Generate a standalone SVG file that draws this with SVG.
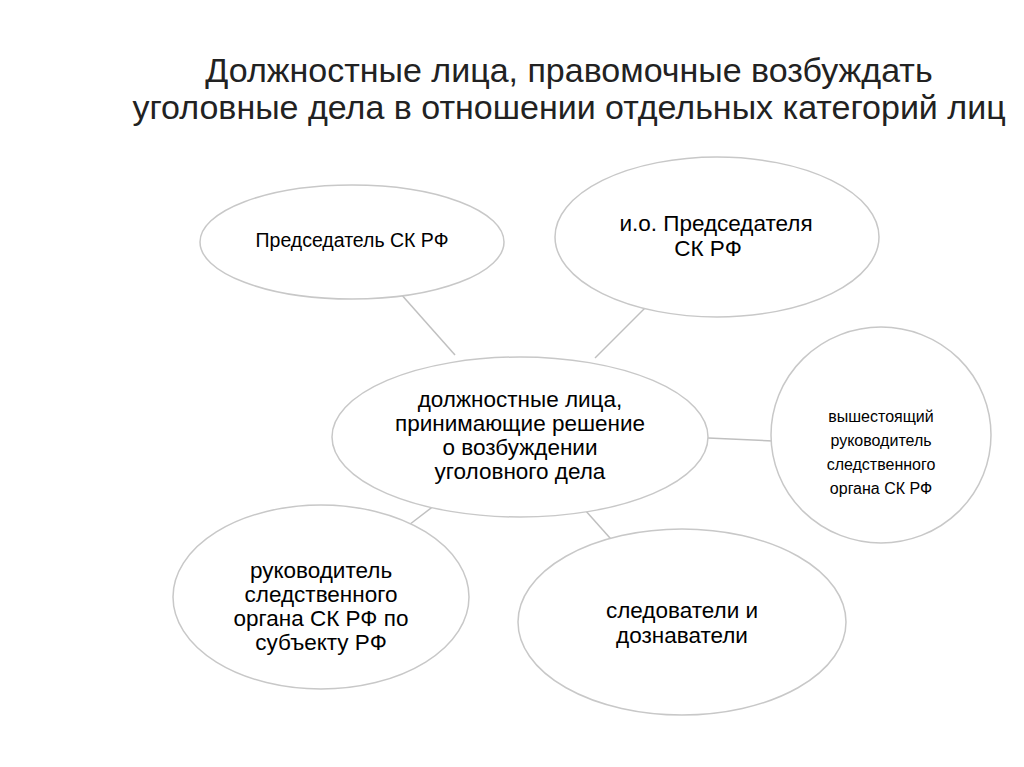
<svg xmlns="http://www.w3.org/2000/svg" width="1024" height="767" viewBox="0 0 1024 767">
<style>
.n{fill:#fff;stroke:#c8c8c8;stroke-width:1.5}
.c{stroke:#c0c0c0;stroke-width:1.5}
text{font-family:"Liberation Sans",Arial,sans-serif;fill:#000;text-anchor:middle}
.t{font-size:34px;fill:#222}
.m{font-size:22.5px}
.s{font-size:16px}
</style>
<rect width="1024" height="767" fill="#fff"/>
<text class="t" x="569" y="82">Должностные лица, правомочные возбуждать</text>
<text class="t" x="569" y="119">уголовные дела в отношении отдельных категорий лиц</text>
<g id="connectors">
<line class="c" x1="400" y1="293" x2="455" y2="355"/>
<line class="c" x1="645" y1="308" x2="595" y2="358"/>
<line class="c" x1="708" y1="438" x2="773" y2="441"/>
<line class="c" x1="435" y1="505" x2="405" y2="528"/>
<line class="c" x1="585" y1="510" x2="618" y2="547"/>
</g>
<g id="n1"><ellipse class="n" cx="352" cy="242" rx="152" ry="57"/><text x="352" y="247" style="font-size:19.5px">Председатель СК РФ</text></g>
<g id="n2"><ellipse class="n" cx="717" cy="237" rx="162" ry="80"/><text class="m" x="716" y="231">и.о. Председателя</text><text class="m" x="708" y="256">СК  РФ</text></g>
<g id="n3"><ellipse class="n" cx="520" cy="437" rx="188" ry="80"/><text class="m" x="520" y="407">должностные лица,</text><text class="m" x="520" y="431">принимающие решение</text><text class="m" x="520" y="455">о возбуждении</text><text class="m" x="520" y="479">уголовного дела</text></g>
<g id="n4"><ellipse class="n" cx="881" cy="435" rx="110" ry="108"/><text class="s" x="881" y="422">вышестоящий</text><text class="s" x="881" y="446">руководитель</text><text class="s" x="881" y="470">следственного</text><text class="s" x="881" y="494">органа СК РФ</text></g>
<g id="n5"><ellipse class="n" cx="321" cy="597" rx="148" ry="92"/><text class="m" x="321" y="578">руководитель</text><text class="m" x="321" y="602">следственного</text><text class="m" x="321" y="626">органа СК РФ по</text><text class="m" x="321" y="650">субъекту РФ</text></g>
<g id="n6"><ellipse class="n" cx="682" cy="622" rx="164" ry="93"/><text class="m" x="682" y="618">следователи и</text><text class="m" x="682" y="643">дознаватели</text></g>
</svg>
